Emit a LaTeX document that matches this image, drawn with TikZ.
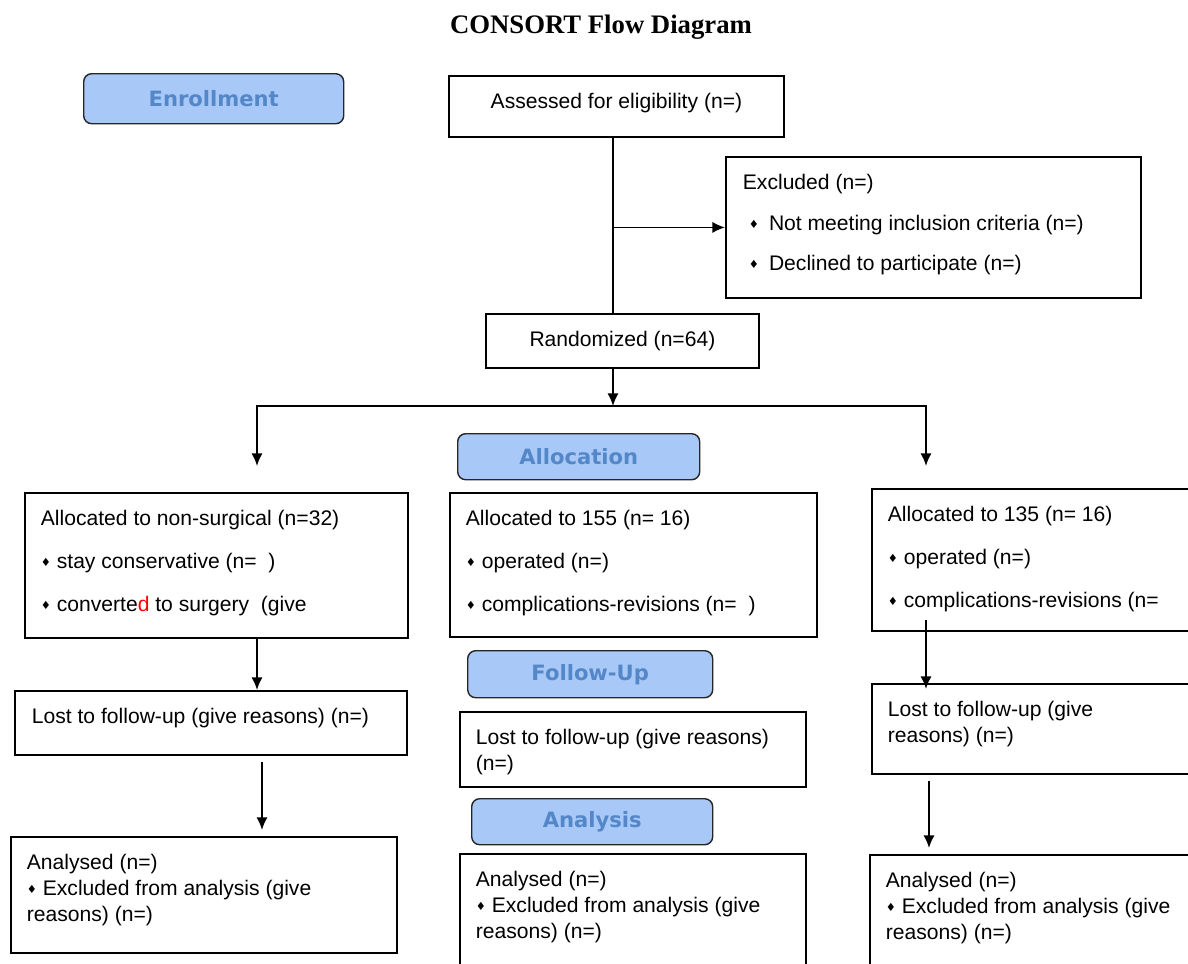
\documentclass[tikz,border=0pt]{standalone}
\usepackage{fontspec}
\setmainfont{Liberation Sans}
\newfontfamily\titlefont{Liberation Serif}
\newfontfamily\stagefont{DejaVu Sans}
\usepackage{tikz}
\usetikzlibrary{positioning,arrows.meta}
\definecolor{StageFill}{RGB}{168,200,248}
\definecolor{StageText}{RGB}{84,135,200}
\newdimen\pxu \pxu=0.025cm
\newcommand{\bul}{{\stagefont\fontsize{8}{8}\selectfont\raisebox{1.5pt}{♦}}}
\newcommand{\flowtext}[3]{\begin{minipage}[t][#2\pxu][t]{#1\pxu}\raggedright\rule{0pt}{33\pxu}#3\end{minipage}}

\begin{document}
\begin{tikzpicture}[x=0.025cm, y=-0.025cm, >={Latex[length=9pt,width=8pt]}, line width=1.3pt,
  flowbox/.style={draw, rectangle, anchor=north west, inner ysep=0pt, inner xsep=16\pxu, font=\fontsize{15}{30.5}\selectfont},
  lostbox/.style={flowbox, font=\fontsize{15}{18.5}\selectfont},
  stagelbl/.style={draw=black!85, line width=1pt, rounded corners=8\pxu, fill=StageFill, text=StageText, anchor=north west, inner sep=0pt, font=\stagefont\bfseries\fontsize{15}{18}\selectfont}]
  \useasboundingbox (0,0) rectangle (1188,963);
  \clip (0,0) rectangle (1188,963);

  \node[font=\titlefont\bfseries\fontsize{19}{22}\selectfont, anchor=base] (title) at (601,33) {CONSORT Flow Diagram};

  % enrollment
  \node[stagelbl, minimum width=260\pxu, minimum height=50\pxu] (enroll) at (83,73) {Enrollment};
  \node[flowbox, inner xsep=0pt] (assess) at (448,75) {\flowtext{335}{61}{\centering Assessed for eligibility (n=)}};
  \node[flowbox, inner xsep=17\pxu, font=\fontsize{15}{28.8}\selectfont] (excl) at (725,156) {\flowtext{381}{141}{Excluded (n=)\\
    \hspace*{6\pxu}\bul\hspace{10\pxu}Not meeting inclusion criteria (n=)\\
    \hspace*{6\pxu}\bul\hspace{10\pxu}Declined to participate (n=)}};
  \node[flowbox, inner xsep=0pt] (rand) at (485,313) {\flowtext{273}{54}{\centering Randomized (n=64)}};

  % allocation
  \node[stagelbl, minimum width=242\pxu, minimum height=46\pxu] (alloclbl) at (457,433) {Allocation};
  \node[flowbox] (allocns) at (24,492) {\flowtext{351}{145}{Allocated to non-surgical (n=32)\\
    \bul{} stay conservative (n=~~)\\
    \bul{} converte\textcolor{red}{d} to surgery~~(give}};
  \node[flowbox] (alloc155) at (449,492) {\flowtext{335}{144}{Allocated to 155 (n= 16)\\
    \bul{} operated (n=)\\
    \bul{} complications-revisions (n=~~)}};
  \node[flowbox] (alloc135) at (871,488) {\flowtext{297}{142}{Allocated to 135 (n= 16)\\
    \bul{} operated (n=)\\
    \bul{} complications-revisions (n=}};

  % follow-up
  \node[stagelbl, minimum width=245\pxu, minimum height=47\pxu] (fuplbl) at (467,650) {Follow-Up};
  \node[lostbox, inner xsep=17\pxu] (lostns) at (14,690) {\flowtext{358}{64}{Lost to follow-up (give reasons) (n=)}};
  \node[lostbox] (lost155) at (459,711) {\flowtext{314}{75}{Lost to follow-up (give reasons)\\(n=)}};
  \node[lostbox] (lost135) at (871,683) {\flowtext{297}{90}{Lost to follow-up (give\\reasons) (n=)}};

  % analysis
  \node[stagelbl, minimum width=241\pxu, minimum height=46\pxu] (anlbl) at (471,798) {Analysis};
  \node[lostbox] (anns) at (10,836) {\flowtext{354}{116}{Analysed (n=)\\\bul{} Excluded from analysis (give\\reasons) (n=)}};
  \node[lostbox] (an155) at (459,853) {\flowtext{314}{150}{Analysed (n=)\\\bul{} Excluded from analysis (give\\reasons) (n=)}};
  \node[lostbox] (an135) at (869,854) {\flowtext{299}{150}{Analysed (n=)\\\bul{} Excluded from analysis (give\\reasons) (n=)}};

  \coordinate (spine) at (613,0);
  \coordinate (split) at (613,406);
  \coordinate (tipL) at (257,466);
  \coordinate (tipR) at (926,466);
  \coordinate (colL) at (262,0);
  \coordinate (colR) at (929,0);

  \draw (assess.south -| spine) -- (rand.north -| spine);
  \draw[->] (spine |- excl.west) -- (excl.west);
  \draw[->] (rand.south -| spine) -- (split);
  \draw[->] (split) -| (tipL);
  \draw[->] (split) -| (tipR);
  \draw[->] (allocns.south -| tipL) -- (lostns.north -| tipL);
  \draw[->, shorten <=6\pxu, shorten >=6\pxu] (lostns.south -| colL) -- (anns.north -| colL);
  \draw[->, shorten <=-12\pxu, shorten >=-6\pxu] (alloc135.south -| tipR) -- (lost135.north -| tipR);
  \draw[->, shorten <=6\pxu, shorten >=6\pxu] (lost135.south -| colR) -- (an135.north -| colR);
\end{tikzpicture}
\end{document}
